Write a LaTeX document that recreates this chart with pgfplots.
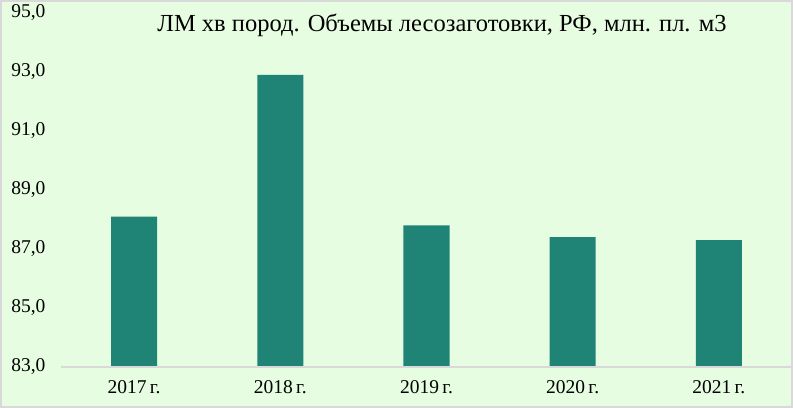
\documentclass[border=0pt]{standalone}
\usepackage{fontspec}
\setmainfont{Liberation Serif}
\usepackage{pgfplots}
\pgfplotsset{compat=1.18}

\definecolor{bgfill}{HTML}{E7FDE2}
\definecolor{framecol}{HTML}{D9D9D9}
\definecolor{barcol}{HTML}{1F8476}

\begin{document}
\begin{tikzpicture}
  % chart area with its light frame
  \useasboundingbox (-61bp,-41bp) rectangle (732bp,367bp);
  \fill[bgfill] (-61bp,-41bp) rectangle (732bp,367bp);
  \draw[framecol, line width=2bp] (-60bp,-40bp) rectangle (731bp,366bp);

  \begin{axis}[
    at={(0,0)}, anchor=south west,
    scale only axis,
    width=731bp, height=354bp,
    xmin=-0.5, xmax=4.5,
    ymin=83, ymax=95,
    ytick={83,85,...,95},
    xtick=data,
    xticklabels={2017\,г., 2018\,г., 2019\,г., 2020\,г., 2021\,г.},
    axis line style={draw=none},
    major tick length=0pt,
    tick label style={font=\fontsize{19.5bp}{21bp}\selectfont, text=black},
    yticklabel style={xshift=-12bp},
    xticklabel style={yshift=-10bp},
    /pgf/number format/.cd, fixed, fixed zerofill, precision=1, use comma, assume math mode=true,
    /pgfplots/.cd,
    clip=false,
  ]
    \addplot[ybar, bar width=46bp, fill=barcol, draw=none, bar shift=0pt]
      coordinates {(0,88.1) (1,92.9) (2,87.8) (3,87.4) (4,87.3)};
    % horizontal category axis line
    \draw[framecol, line width=1.5bp] (rel axis cs:0,0) -- (rel axis cs:1,0);
  \end{axis}

  \node[font=\fontsize{24.5bp}{27bp}\selectfont, anchor=center] at (381bp,342bp)
    {ЛМ хв пород. Объемы лесозаготовки, РФ, млн. пл. м3};
\end{tikzpicture}
\end{document}
